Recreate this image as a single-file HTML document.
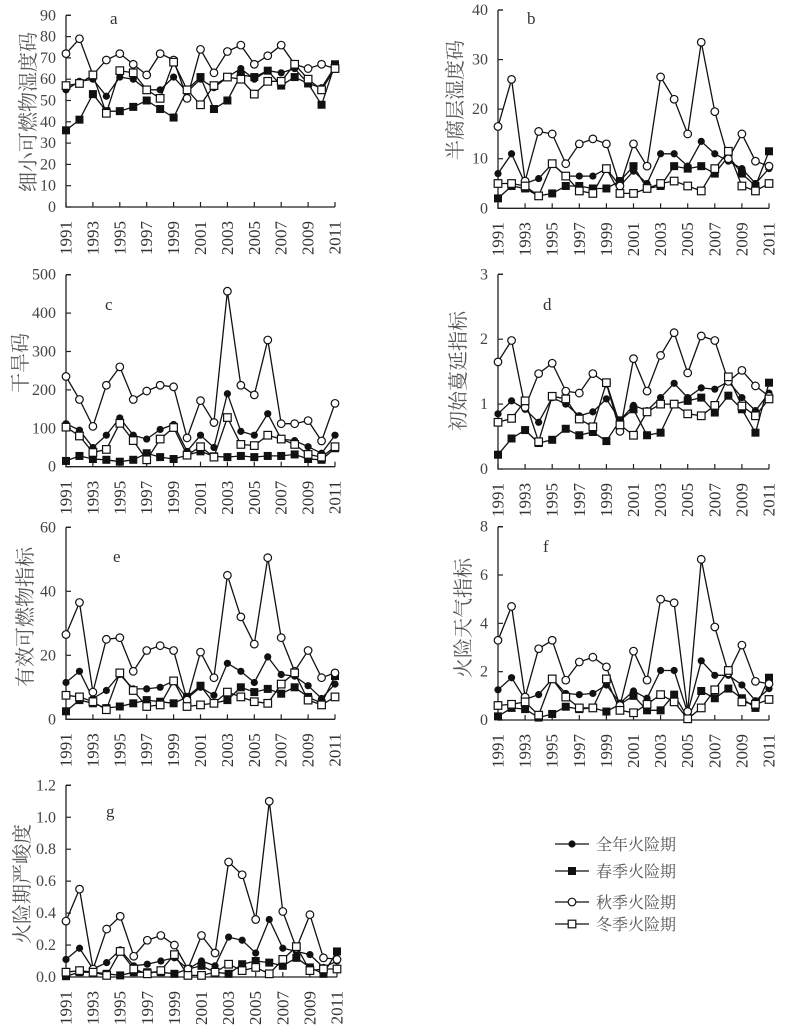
<!DOCTYPE html>
<html><head><meta charset="utf-8"><style>
html,body{margin:0;padding:0;background:#fff;}
svg{display:block;}
</style></head><body>
<svg id="s" width="786" height="1027" xmlns="http://www.w3.org/2000/svg"></svg>
<script>
var S=document.getElementById('s'),h='';
var P=[
{x0:66,x1:335,y0:207,yt:15.3,max:90,ticks:[0,10,20,30,40,50,60,70,80,90],fmt:0,lab:'a',lx:110,ly:24,title:'细小可燃物湿度码',tx:28,ty:112,
d:[[55,59,60,52,61,60,55,55,61,54,60,56,61,65,60,64,63,65,58,56,66],
[36,41,53,45,45,47,50,46,42,55,61,46,50,62,61,64,57,61,58,48,67],
[72,79,62,69,72,67,62,72,69,51,74,63,73,76,67,71,76,67,65,67,65],
[57,58,62,44,64,63,55,51,68,55,48,57,61,60,53,59,59,67,60,55,65]]},
{x0:498,x1:769,y0:208.3,yt:10,max:40,ticks:[0,10,20,30,40],fmt:0,lab:'b',lx:527,ly:24,title:'半腐层湿度码',tx:455,ty:100,
d:[[7,11,5,6,9,6.5,6.5,6.5,8,4.5,7.5,5,11,11,8.5,13.5,11,9.5,8,5,8],
[2,4.5,4,2.5,3,4.5,4.5,4,4,5.5,8.5,4,4.5,8.5,8,8.5,7,10.5,7,4.5,11.5],
[16.5,26,5.5,15.5,15,9,13,14,13,4.5,13,8.5,26.5,22,15,33.5,19.5,10,15,9.5,8.5],
[5,5,4.5,2.5,9,6.5,3.5,3,8,3,3,4,5,5.5,4.5,3.5,8,11.5,4.5,3.5,5]]},
{x0:66,x1:335,y0:466.7,yt:274.7,max:500,ticks:[0,100,200,300,400,500],fmt:0,lab:'c',lx:105,ly:310,title:'干旱码',tx:20,ty:363,
d:[[112,95,50,82,127,82,72,97,110,40,82,50,190,92,82,138,72,68,52,35,82],
[15,28,20,18,13,18,35,25,20,30,40,27,25,28,25,28,28,32,20,18,48],
[235,175,105,212,260,175,197,212,208,75,172,115,457,212,187,330,112,112,120,67,165],
[103,80,37,45,113,68,18,72,102,30,52,25,128,58,55,82,72,58,32,25,52]]},
{x0:498,x1:769,y0:469,yt:274.3,max:3,ticks:[0,1,2,3],fmt:0,lab:'d',lx:543,ly:310,title:'初始蔓延指标',tx:458,ty:371,
d:[[0.85,1.05,0.92,0.72,1.1,1.0,0.82,0.88,1.08,0.75,0.98,0.9,1.1,1.32,1.1,1.25,1.23,1.35,1.1,0.9,1.17],
[0.22,0.47,0.6,0.4,0.45,0.62,0.52,0.57,0.43,0.75,0.92,0.52,0.56,1.0,1.05,1.1,0.87,1.13,0.92,0.56,1.33],
[1.65,1.98,0.95,1.47,1.63,1.2,1.17,1.47,1.32,0.58,1.7,1.2,1.75,2.1,1.48,2.05,1.98,1.35,1.52,1.28,1.12],
[0.72,0.78,1.05,0.42,1.12,1.08,0.77,0.65,1.33,0.68,0.52,0.88,1.0,1.0,0.85,0.82,0.98,1.42,0.97,0.82,1.08]]},
{x0:66,x1:335,y0:719.3,yt:527.3,max:60,ticks:[0,20,40,60],fmt:0,lab:'e',lx:113,ly:562,title:'有效可燃物指标',tx:25,ty:617,
d:[[11.5,15,6.5,9,14,9.5,9.5,10,12,6.5,10,7.5,17.5,15,11.5,19.5,14,13.5,10.5,6.5,11],
[2.5,6,5,3.5,4,5,6,5.5,5,7,10.5,5,6,10,8.5,9.5,8,10,7,5,13.5],
[26.5,36.5,8.5,25,25.5,15,21.5,23,21.5,6,21,13,45,32,23.5,50.5,25.5,15,21.5,13,14.5],
[7.5,7,5.5,3,14.5,9,4,4.5,12,4,4.5,5,8.5,7,5.5,5,11,14.5,6,4.5,7]]},
{x0:498,x1:769,y0:720,yt:526.7,max:8,ticks:[0,2,4,6,8],fmt:0,lab:'f',lx:543,ly:552,title:'火险天气指标',tx:463,ty:618,
d:[[1.25,1.75,0.85,1.05,1.7,1.1,1.05,1.1,1.45,0.7,1.2,0.9,2.05,2.05,0.3,2.45,1.85,1.85,1.45,0.8,1.3],
[0.15,0.5,0.45,0.1,0.25,0.55,0.45,0.5,0.35,0.65,1.0,0.4,0.4,1.05,0.1,1.2,0.9,1.3,0.9,0.5,1.75],
[3.3,4.7,0.95,2.95,3.3,1.65,2.4,2.6,2.2,0.6,2.85,1.65,5.0,4.85,0.35,6.65,3.85,1.95,3.1,1.6,1.5],
[0.6,0.65,0.75,0.2,1.7,0.95,0.5,0.5,1.7,0.4,0.3,0.65,1.05,0.75,0.05,0.5,1.25,2.05,0.75,0.65,0.85]]},
{x0:66,x1:337,y0:977,yt:785.3,max:1.2,ticks:[0,0.2,0.4,0.6,0.8,1.0,1.2],fmt:1,lab:'g',lx:106,ly:817,title:'火险期严峻度',tx:22,ty:884,
d:[[0.11,0.18,0.05,0.09,0.17,0.07,0.08,0.1,0.12,0.05,0.1,0.07,0.25,0.23,0.15,0.36,0.18,0.16,0.14,0.06,0.1],
[0.005,0.03,0.03,0.02,0.01,0.03,0.03,0.03,0.02,0.05,0.07,0.03,0.02,0.08,0.1,0.09,0.07,0.12,0.06,0.02,0.16],
[0.35,0.55,0.05,0.3,0.38,0.13,0.23,0.26,0.2,0.05,0.26,0.15,0.72,0.64,0.36,1.1,0.41,0.18,0.39,0.12,0.11],
[0.03,0.04,0.03,0.01,0.16,0.05,0.02,0.04,0.14,0.01,0.01,0.03,0.08,0.04,0.06,0.02,0.11,0.19,0.04,0.05,0.05]]}
];
function mk(t,x,y){
 if(t==0) return '<circle cx="'+x+'" cy="'+y+'" r="3.6" fill="#111"/>';
 if(t==1) return '<rect x="'+(x-4)+'" y="'+(y-4)+'" width="8" height="8" fill="#111"/>';
 if(t==2) return '<circle cx="'+x+'" cy="'+y+'" r="3.8" fill="#fff" stroke="#111" stroke-width="1.2"/>';
 return '<rect x="'+(x-3.8)+'" y="'+(y-3.8)+'" width="7.6" height="7.6" fill="#fff" stroke="#111" stroke-width="1.2"/>';
}
P.forEach(function(p){
 var sx=function(i){return p.x0+i*(p.x1-p.x0)/20;};
 var sy=function(v){return p.y0-(v/p.max)*(p.y0-p.yt);};
 h+='<path d="M'+p.x0+' '+p.yt+'H'+(p.x0+5)+'M'+p.x0+' '+p.yt+'V'+p.y0+'H'+p.x1+'" fill="none" stroke="#222" stroke-width="1.3"/>';
 p.ticks.forEach(function(t){var y=sy(t);
  h+='<line x1="'+p.x0+'" y1="'+y+'" x2="'+(p.x0+5)+'" y2="'+y+'" stroke="#222" stroke-width="1.2"/>';
  h+='<text x="'+(p.x0-10)+'" y="'+(y+5)+'" text-anchor="end" font-family="Liberation Serif,serif" font-size="16" fill="#444">'+(p.fmt?t.toFixed(1):t)+'</text>';});
 for(var i=0;i<=20;i+=2){var x=sx(i);
  h+='<line x1="'+x+'" y1="'+p.y0+'" x2="'+x+'" y2="'+(p.y0-5)+'" stroke="#222" stroke-width="1.2"/>';
  h+='<text transform="translate('+(x+5.5)+','+(p.y0+14)+') rotate(-90)" text-anchor="end" font-family="Liberation Serif,serif" font-size="17" fill="#333">'+(1991+i)+'</text>';}
 for(var k=0;k<4;k++){var pts=p.d[k].map(function(v,i){return sx(i).toFixed(1)+','+sy(v).toFixed(1);}).join(' ');
  h+='<polyline points="'+pts+'" fill="none" stroke="#111" stroke-width="1.3"/>';}
 for(var k=0;k<4;k++){p.d[k].forEach(function(v,i){h+=mk(k,sx(i),sy(v));});}
 h+='<text x="'+p.lx+'" y="'+p.ly+'" font-family="Liberation Serif,serif" font-size="17" fill="#333">'+p.lab+'</text>';
 h+='<text transform="translate('+(p.tx+7)+','+p.ty+') rotate(-90)" text-anchor="middle" font-family="Noto Serif CJK SC,Noto Sans CJK SC,serif" font-size="20" fill="#555">'+p.title+'</text>';
});
var L=['全年火险期','春季火险期','秋季火险期','冬季火险期'],LY=[844,871,902,924];
for(var k=0;k<4;k++){h+='<line x1="555" y1="'+LY[k]+'" x2="589" y2="'+LY[k]+'" stroke="#111" stroke-width="1.3"/>'+mk(k,572,LY[k]);
 h+='<text x="596" y="'+(LY[k]+6)+'" font-family="Noto Serif CJK SC,Noto Sans CJK SC,serif" font-size="16" fill="#555">'+L[k]+'</text>';}
S.innerHTML=h;
</script>
</body></html>
